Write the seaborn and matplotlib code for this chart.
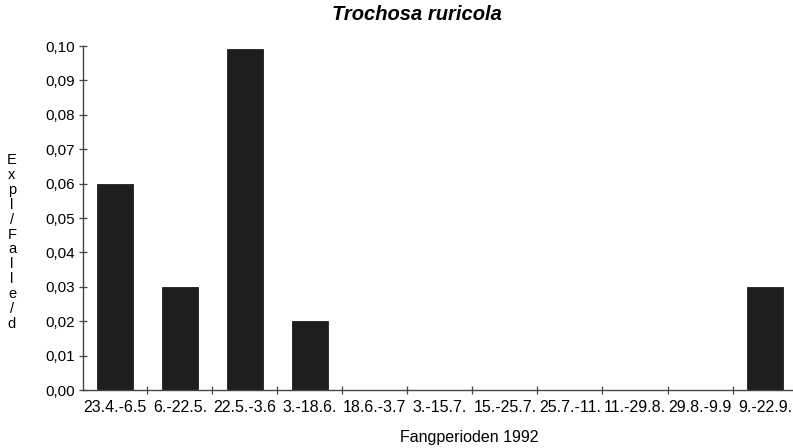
import matplotlib
matplotlib.use("Agg")
import matplotlib.pyplot as plt
import seaborn as sns
import pandas as pd
import numpy as np

# Catch periods 1992 and activity density (individuals per trap per day)
periods = ["23.4.-6.5", "6.-22.5.", "22.5.-3.6", "3.-18.6.", "18.6.-3.7",
           "3.-15.7.", "15.-25.7.", "25.7.-11.", "11.-29.8.", "29.8.-9.9",
           "9.-22.9."]
values = [0.060, 0.030, 0.099, 0.020, 0.0, 0.0, 0.0, 0.0, 0.0, 0.0, 0.030]
y_ticks = [0.00, 0.01, 0.02, 0.03, 0.04, 0.05, 0.06, 0.07, 0.08, 0.09, 0.10]

df = pd.DataFrame({"Periode": periods, "Wert": values})

sns.set_theme(style="white")
plt.rcParams["font.family"] = ["Liberation Sans", "DejaVu Sans"]
plt.rcParams["text.color"] = "black"
plt.rcParams["xtick.color"] = "black"
plt.rcParams["ytick.color"] = "black"

fig = plt.figure(figsize=(7.93, 4.48), dpi=100)
ax = fig.add_axes([83 / 793, (448 - 390) / 448, (793 - 83) / 793, (390 - 46) / 448])

sns.barplot(data=df, x="Periode", y="Wert", color="#1e1e1e", width=0.55,
            saturation=1, ax=ax, edgecolor="#1e1e1e", linewidth=0.6)

ax.set_xlim(-0.49, 10.43)
ax.set_ylim(0, 0.10)
ax.set_yticks(y_ticks)
ax.set_yticklabels([f"{t:.2f}".replace(".", ",") for t in y_ticks], fontsize=11)

# labels at category centres, tick marks between categories
ax.set_xticks(range(len(periods)))
ax.set_xticklabels(periods, fontsize=11.5)
ax.tick_params(axis="x", which="major", length=0, pad=7, bottom=True,
               labelcolor="black")
ax.set_xticks(np.arange(0.5, len(periods) - 0.5, 1.0), minor=True)
ax.tick_params(axis="x", which="minor", direction="inout", length=6,
               width=0.9, color="#444444", bottom=True)
ax.tick_params(axis="y", which="major", direction="inout", length=6,
               width=0.9, color="#444444", pad=3, left=True,
               labelcolor="black")

for side in ("top", "right"):
    ax.spines[side].set_visible(False)
for side in ("left", "bottom"):
    ax.spines[side].set_color("#444444")
    ax.spines[side].set_linewidth(1.0)

ax.set_xlabel("")
ax.set_ylabel("")

fig.text(417 / 793, 1 - 15 / 448, "Trochosa ruricola", ha="center", va="center",
         fontsize=14.5, fontweight="bold", fontstyle="italic", color="black")
fig.text(469 / 793, 1 - 437 / 448, "Fangperioden 1992", ha="center", va="center",
         fontsize=11.5, color="black")
fig.text(12 / 793, 1 - 242 / 448, "\n".join("Expl/Falle/d"), ha="center",
         va="center", fontsize=10.5, linespacing=1.08, color="black")

fig.savefig("out.png", dpi=100, facecolor="white")
